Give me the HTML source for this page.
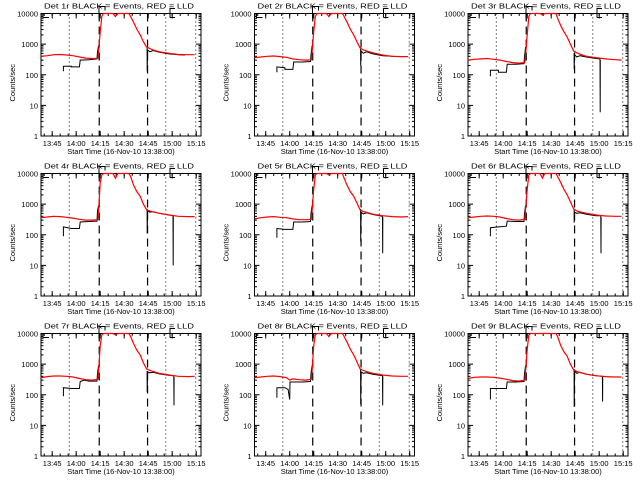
<!DOCTYPE html>
<html><head><meta charset="utf-8"><style>
body{margin:0;background:#fff}
svg{display:block}
text{font-family:"Liberation Sans",sans-serif;font-size:7.5px;fill:#000}
</style></head><body>
<svg id="chart" width="640" height="480" viewBox="0 0 640 480" xmlns="http://www.w3.org/2000/svg"></svg>
<script>
const detLabels=["1r","2r","3r","4r","5r","6r","7r","8r","9r"];
const xTickLabels=["13:45","14:00","14:15","14:30","14:45","15:00","15:15"];
const xTickMinutes=[7,22,37,52,67,82,97];
const yTickValues=[1,10,100,1000,10000];
const yTickLabels=["1","10","100","1000","10000"];
const dottedMinutes=[17.7,78,96.7];
const dashedMinutes=[36.4,66.6];
const red1=[[0,400],[4,420],[8,450],[12,460],[16,440],[20,420],[24,380],[28,350],[32,340],[35.5,345],[36,600],[37,2500],[38,8000],[39,12000],[45,12000],[46.5,8000],[48,12000],[55,12000],[56,8000],[58,5000],[60,3000],[62,2000],[64,1200],[66,800],[68,720],[70,650],[74,560],[80,500],[86,460],[92,450],[96,450]];
const red2=[[0,360],[4,380],[8,400],[12,410],[16,390],[20,370],[24,330],[28,310],[32,300],[35.5,305],[36,550],[37,2500],[38,8000],[39,12000],[45,12000],[46.5,8000],[48,12000],[55,12000],[56,8000],[58,5000],[60,3000],[62,2000],[64,1200],[66,750],[68,650],[70,600],[74,520],[80,440],[86,400],[92,390],[96,390]];
const red3=[[0,300],[4,320],[8,330],[12,340],[16,320],[20,300],[24,270],[28,250],[32,240],[35.5,250],[36,450],[37,2000],[38,8000],[39,12000],[45,12000],[46.5,9000],[48,12000],[55,12000],[56,7000],[58,4000],[60,2500],[62,1700],[64,1000],[66,600],[68,520],[70,470],[74,400],[80,360],[86,330],[92,310],[96,300]];
const red4=[[0,360],[4,380],[8,400],[12,390],[16,370],[20,350],[24,320],[28,300],[32,300],[35.5,310],[36,600],[37,5000],[38,9000],[39,12000],[45,12000],[46.5,7000],[48,12000],[55,12000],[56,8000],[58,4000],[60,2500],[62,1800],[64,1000],[66,650],[68,600],[70,560],[74,500],[80,440],[86,400],[92,390],[96,390]];
const red5=[[0,330],[4,360],[8,380],[12,390],[16,370],[20,360],[24,330],[28,310],[32,310],[35.5,320],[36,600],[37,3000],[38,9000],[39,12000],[45,12000],[46.5,9000],[48,12000],[55,12000],[56,7000],[58,4000],[60,2500],[62,1800],[64,1100],[66,650],[68,580],[70,540],[74,470],[80,420],[86,390],[92,380],[96,390]];
const red6=[[0,360],[4,380],[8,400],[12,410],[16,400],[20,380],[24,340],[28,310],[32,300],[35.5,320],[36,700],[37,3000],[38,9000],[39,12000],[45,12000],[46.5,7000],[48,12000],[55,12000],[56,8000],[58,5000],[60,3000],[62,2000],[64,1200],[66,700],[68,600],[70,560],[74,500],[80,440],[86,410],[92,400],[96,400]];
const red7=[[0,360],[4,390],[8,410],[12,410],[16,400],[20,380],[24,340],[28,310],[32,300],[35.5,320],[36,600],[37,4000],[38,9000],[39,12000],[45,12000],[46.5,9000],[48,12000],[55,12000],[56,8000],[58,4500],[60,2800],[62,2000],[64,1100],[66,700],[68,630],[70,580],[74,500],[80,440],[86,400],[92,390],[96,400]];
const red8=[[0,360],[4,380],[8,400],[12,410],[16,390],[20,360],[22,300],[24,330],[28,310],[32,300],[35.5,320],[36,600],[37,4000],[38,9000],[39,12000],[45,12000],[46.5,8000],[48,12000],[55,12000],[56,8000],[58,5000],[60,3000],[62,2000],[64,1200],[66,700],[68,620],[70,570],[74,500],[80,440],[86,410],[92,400],[96,400]];
const red9=[[0,340],[4,370],[8,380],[12,380],[16,370],[20,350],[24,320],[28,290],[32,280],[35.5,300],[36,600],[37,3000],[38,9000],[39,12000],[55,12000],[56,8000],[58,4000],[60,2500],[62,1800],[64,1000],[66,650],[68,580],[70,530],[74,470],[80,420],[86,390],[92,380],[96,380]];
const black1=[[14,130],[14,190],[19,190],[19,180],[24,180],[24.5,300],[30,310],[35,330],[35.3,550],[36,900],null,[66.3,750],[66.4,130],[66.6,650],[68,560],[70,620],[74,540],[80,480],[86,450],[90,440]];
const black2=[[14,120],[14,180],[19,170],[19,150],[24,150],[24.5,260],[30,260],[35,270],[35.3,450],[36,900],null,[66.3,700],[66.4,200],[66.6,600],[68,500],[70,560],[74,480],[80,420],[86,400],[90,390]];
const black3=[[14,90],[14,140],[19,140],[19,120],[24,120],[24.5,220],[30,220],[35,230],[35.3,400],[36,800],null,[66.3,500],[66.4,150],[66.6,450],[68,380],[70,420],[74,380],[80,340],[82.5,330],[82.6,6],[82.7,300]];
const black4=[[14,90],[14,180],[19,160],[24,160],[24.5,260],[30,270],[35,280],[35.3,600],[36,900],null,[66.3,700],[66.4,110],[66.6,600],[68,550],[70,560],[74,500],[80,440],[82.5,420],[82.6,10],[82.7,400]];
const black5=[[14,80],[14,160],[19,150],[24,150],[24.5,260],[30,260],[35,270],[35.3,500],[36,900],null,[66.3,700],[66.4,60],[66.6,550],[68,480],[70,520],[74,460],[80,400],[80.1,25],[80.2,380]];
const black6=[[14,90],[14,170],[19,180],[24,190],[24.5,280],[30,270],[35,270],[35.3,500],[36,900],null,[66.3,700],[66.4,250],[66.6,550],[68,500],[70,520],[74,470],[80,420],[83,420],[83.1,25],[83.2,380]];
const black7=[[14,90],[14,170],[19,160],[24,160],[24.5,270],[27,300],[30,280],[35,280],[35.3,500],[36,900],null,[66.3,600],[66.4,120],[66.6,560],[68,520],[70,540],[74,480],[80,430],[83,420],[83.1,45],[83.2,380]];
const black8=[[14,80],[14,170],[19,170],[21,150],[22,70],[22.2,260],[24,260],[30,260],[35,270],[35.3,500],[36,900],null,[66.3,700],[66.4,50],[66.6,560],[68,500],[70,520],[74,470],[80,420],[80.1,45],[80.2,400]];
const black9=[[14,70],[14,160],[19,160],[24,160],[24.5,260],[30,260],[35,270],[35.3,500],[36,900],null,[66.3,700],[66.4,40],[66.6,600],[68,500],[70,540],[74,470],[80,420],[84,400],[84.1,60],[84.2,380]];
const redSeries=[red1,red2,red3,red4,red5,red6,red7,red8,red9];
const blackSeries=[black1,black2,black3,black4,black5,black6,black7,black8,black9];

const NS="http://www.w3.org/2000/svg";
const svg=document.getElementById('chart');
function mk(tag,attrs,parent){const e=document.createElementNS(NS,tag);for(const k in attrs)e.setAttribute(k,attrs[k]);parent.appendChild(e);return e;}
const PW=160,PH=122.5,XMAX=100;
for(let p=0;p<9;p++){
  const col=p%3,row=Math.floor(p/3);
  const ox=41+col*213.5, oy=13.5+row*160;
  const xs=m=>ox+m/XMAX*PW;
  const ys=v=>{const c=Math.min(Math.max(v,1),10000);return oy+PH-Math.log10(c)/4*PH;};
  const g=mk('g',{},svg);
  
  
  const frame=mk('rect',{x:ox,y:oy,width:PW,height:PH,fill:'none',stroke:'#000','stroke-width':1},g);
  
  
  for(let i=0;i<xTickMinutes.length;i++){
    const x=xs(xTickMinutes[i]);
    mk('line',{x1:x,y1:oy+PH,x2:x,y2:oy+PH-5,stroke:'#000'},g);
    mk('line',{x1:x,y1:oy,x2:x,y2:oy+5,stroke:'#000'},g);
    const t=mk('text',{x:x,y:oy+PH+10,'text-anchor':'middle'},g);
    t.textContent=xTickLabels[i];
    
    
  }
  for(let m=2;m<XMAX;m+=5){
    const x=xs(m);
    mk('line',{x1:x,y1:oy+PH,x2:x,y2:oy+PH-2.5,stroke:'#000'},g);
    mk('line',{x1:x,y1:oy,x2:x,y2:oy+2.5,stroke:'#000'},g);
  }
  for(let i=0;i<yTickValues.length;i++){
    const y=ys(yTickValues[i]);
    mk('line',{x1:ox,y1:y,x2:ox+5,y2:y,stroke:'#000'},g);
    mk('line',{x1:ox+PW,y1:y,x2:ox+PW-5,y2:y,stroke:'#000'},g);
    const t=mk('text',{x:ox-3,y:y+3,'text-anchor':'end'},g);
    t.textContent=yTickLabels[i];
    
    
    if(i<yTickValues.length-1){
      for(let k=2;k<10;k++){const yy=ys(yTickValues[i]*k);
        mk('line',{x1:ox,y1:yy,x2:ox+2.5,y2:yy,stroke:'#000'},g);
        mk('line',{x1:ox+PW,y1:yy,x2:ox+PW-2.5,y2:yy,stroke:'#000'},g);}
    }
  }
  const yt=mk('text',{x:0,y:0,'text-anchor':'middle',transform:`translate(${ox-26},${oy+PH/2+8}) rotate(-90)`},g);
  yt.textContent='Counts/sec';
  
  
  const xt=mk('text',{x:ox+80,y:oy+PH+18,'text-anchor':'middle','font-size':'8'},g);
  xt.textContent='Start Time (16-Nov-10 13:38:00)';
  
  
  const tt=mk('text',{x:ox+78,y:oy-5,'text-anchor':'middle','font-size':'9',textLength:150,lengthAdjust:'spacingAndGlyphs'},g);
  tt.textContent='Det '+detLabels[p]+' BLACK = Events, RED = LLD';
  
  
  mk('path',{d:`M${ox+2},${oy} V${oy+4} H${ox+8}`,fill:'none',stroke:'#000'},g);
  mk('path',{d:`M${ox+58},${oy+5} V${oy-7} H${ox+64} V${oy-3}`,fill:'none',stroke:'#000'},g);
  mk('path',{d:`M${ox+129},${oy+4} H${ox+134} M${ox+129},${oy+4} V${oy-5} H${ox+134}`,fill:'none',stroke:'#000'},g);
  dottedMinutes.forEach(m=>{const l=mk('line',{x1:xs(m),y1:oy,x2:xs(m),y2:oy+PH,stroke:'#000','stroke-dasharray':'1,3'},g);
    
    });
  dashedMinutes.forEach(m=>{const l=mk('line',{x1:xs(m),y1:oy,x2:xs(m),y2:oy+PH,stroke:'#000','stroke-width':1.2,'stroke-dasharray':'8,5'},g);
    
    });
  const toPath=arr=>{let d='',start=true;arr.forEach(pt=>{if(!pt){start=true;return;}d+=(start?'M':'L')+xs(pt[0]).toFixed(1)+','+ys(pt[1]).toFixed(1)+' ';start=false;});return d;};
  const bl=mk('path',{d:toPath(blackSeries[p]),fill:'none',stroke:'#000','stroke-width':1},g);
  
  
  const rl=mk('path',{d:toPath(redSeries[p]),fill:'none',stroke:'#ff0000','stroke-width':1.2},g);
  
  
}
</script>
</body></html>
